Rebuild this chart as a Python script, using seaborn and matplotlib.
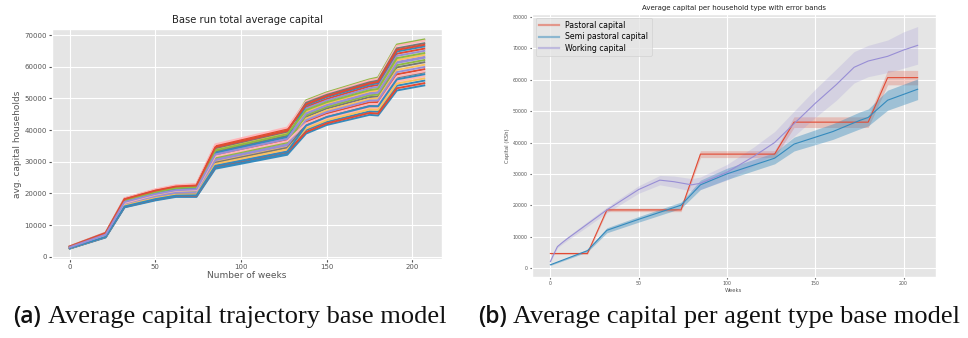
import matplotlib
matplotlib.use("Agg")
import matplotlib.pyplot as plt
from matplotlib.lines import Line2D
import numpy as np
import pandas as pd
import seaborn as sns

# ---------------------------------------------------------------------------
# Panel (a): average household capital for every simulation run of the base model
# ---------------------------------------------------------------------------
run_weeks = [0, 21, 32, 50, 62, 74, 85, 127, 138, 150, 175, 180, 191, 207]

run_01 = [3000, 7000, 17200, 19700, 20900, 21200, 32000, 36900, 42600, 45200, 48700, 48800, 57600, 59200]
run_02 = [2600, 6100, 15600, 17800, 18900, 18900, 27800, 32200, 38900, 41600, 44800, 44600, 52500, 54100]
run_03 = [2900, 6700, 16800, 19200, 20400, 20500, 30900, 35600, 45400, 48000, 51700, 52000, 61500, 63100]
run_04 = [3100, 7200, 17600, 20300, 21500, 21800, 33200, 38200, 44200, 46800, 50400, 50600, 59800, 61400]
run_05 = [2800, 6600, 16500, 18900, 20000, 20100, 30100, 34800, 43600, 46200, 49800, 50000, 59000, 60600]
run_06 = [3200, 7500, 18200, 21000, 22200, 22600, 34700, 39900, 49400, 51900, 56000, 56600, 67000, 68600]
run_07 = [2700, 6300, 16000, 18300, 19500, 19500, 29000, 33500, 41000, 43700, 47000, 47000, 55400, 57000]
run_08 = [3300, 7600, 18400, 21100, 22400, 22800, 35100, 40400, 47300, 49800, 53800, 54200, 64100, 65700]
run_09 = [2600, 6200, 15700, 18000, 19100, 19100, 28200, 32600, 40000, 42600, 45900, 45800, 54000, 55600]
run_10 = [3000, 7100, 17300, 19900, 21100, 21400, 32400, 37400, 46800, 49300, 53200, 53600, 63400, 65000]
run_11 = [2800, 6500, 16300, 18700, 19800, 19900, 29700, 34400, 41800, 44500, 47900, 48000, 56600, 58200]
run_12 = [3200, 7400, 17900, 20600, 21900, 22200, 34000, 39100, 45800, 48400, 52200, 52500, 62100, 63700]
run_13 = [2900, 6800, 16900, 19400, 20600, 20700, 31300, 36100, 44700, 47300, 51000, 51200, 60500, 62100]
run_14 = [3300, 7700, 18500, 21300, 22600, 23000, 35500, 40800, 49100, 51600, 55700, 56200, 66600, 68200]
run_15 = [2700, 6300, 15900, 18200, 19300, 19300, 28600, 33100, 39400, 42100, 45400, 45200, 53200, 54800]
run_16 = [3100, 7100, 17500, 20100, 21300, 21600, 32800, 37800, 47800, 50400, 54300, 54800, 64800, 66400]
run_17 = [2800, 6700, 16600, 19000, 20200, 20300, 30500, 35200, 43100, 45700, 49300, 49400, 58300, 59900]
run_18 = [3200, 7500, 18100, 20800, 22000, 22400, 34300, 39500, 48600, 51100, 55100, 55600, 65800, 67400]
run_19 = [2700, 6400, 16200, 18500, 19600, 19700, 29300, 33900, 40500, 43100, 46500, 46400, 54700, 56300]
run_20 = [3100, 7300, 17800, 20400, 21700, 22000, 33600, 38700, 46300, 48800, 52600, 53000, 62700, 64300]
run_21 = [3000, 6900, 17000, 19600, 20800, 21000, 31700, 36500, 42100, 44700, 48200, 48200, 56900, 58500]
run_22 = [3200, 7500, 18200, 20900, 22200, 22500, 34600, 39800, 48100, 50700, 54700, 55200, 65300, 66900]
run_23 = [2700, 6300, 15900, 18200, 19300, 19400, 28700, 33200, 41400, 44100, 47500, 47500, 56000, 57600]
run_24 = [3000, 7000, 17300, 19800, 21000, 21300, 32300, 37200, 45200, 47800, 51500, 51800, 61200, 62800]

runs = [run_01, run_02, run_03, run_04, run_05, run_06, run_07, run_08,
        run_09, run_10, run_11, run_12, run_13, run_14, run_15, run_16,
        run_17, run_18, run_19, run_20, run_21, run_22, run_23, run_24]

# ---------------------------------------------------------------------------
# Panel (b): mean capital per household type with its spread over runs
# ---------------------------------------------------------------------------
pastoral_weeks = [0, 21, 32, 74, 85, 127, 138, 180, 191, 208]
pastoral_mean = [4600, 4600, 18500, 18500, 36300, 36300, 46500, 46500, 60700, 60700]
pastoral_err = [300, 300, 550, 550, 1100, 1100, 1700, 1700, 2300, 2300]

semi_weeks = [0, 21, 32, 50, 74, 85, 100, 127, 138, 160, 175, 180, 191, 208]
semi_mean = [1000, 5500, 12000, 15500, 20000, 26500, 30000, 35000, 39500, 43500, 47000, 48000, 53500, 57000]
semi_err = [200, 400, 800, 900, 1000, 1500, 1800, 1800, 2200, 2500, 2700, 2700, 3200, 3300]

working_weeks = [0, 2, 4, 7, 10, 21, 32, 50, 62, 70, 80, 85, 100, 115, 127, 138, 150, 162, 172, 180, 191, 200, 208]
working_mean = [2000, 4500, 6800, 8200, 9500, 14000, 18500, 25000, 28000, 27500, 26500, 27000, 30500, 35500,
                40000, 46000, 52500, 58500, 64000, 66000, 67500, 69500, 71000]
working_err = [300, 350, 400, 500, 600, 800, 900, 1200, 1500, 1800, 2000, 2000, 2500, 3000, 3500,
               4000, 4500, 5000, 5000, 5000, 5200, 5800, 6000]

series_labels = ["Pastoral capital", "Semi pastoral capital", "Working capital"]

# ---------------------------------------------------------------------------
plt.style.use("ggplot")
cycle = ["#E24A33", "#348ABD", "#988ED5", "#777777", "#FBC15E", "#8EBA42", "#FFB5B8"]

fig = plt.figure(figsize=(9.68, 3.38), dpi=100)

# ---- panel (a)
ax1 = fig.add_axes([52 / 968, (338 - 259) / 338, 390 / 968, 230 / 338])
run_names = [f"run {i + 1}" for i in range(len(runs))]
df_runs = pd.DataFrame({
    "week": np.tile(run_weeks, len(runs)),
    "capital": np.concatenate(runs),
    "run": np.repeat(run_names, len(run_weeks)),
})
palette = [cycle[i % len(cycle)] for i in range(len(runs))]
sns.lineplot(data=df_runs, x="week", y="capital", hue="run", hue_order=run_names,
             palette=palette, estimator=None, legend=False, linewidth=1.4, ax=ax1)
ax1.set_xlim(-10.35, 217.35)
ax1.set_ylim(-700, 71900)
ax1.set_xticks([0, 50, 100, 150, 200])
ax1.set_yticks(range(0, 70001, 10000))
ax1.set_title("Base run total average capital", fontsize=7.2, color="#222222", pad=4)
ax1.set_xlabel("Number of weeks", fontsize=6.5, labelpad=1)
ax1.set_ylabel("avg. capital households", fontsize=6.5, labelpad=2)
ax1.tick_params(labelsize=5, length=2, pad=1.5)

# ---- panel (b)
ax2 = fig.add_axes([532 / 968, 61 / 338, 404 / 968, 263 / 338])
groups = [
    (pastoral_weeks, pastoral_mean, pastoral_err, cycle[0], 0.25),
    (semi_weeks, semi_mean, semi_err, cycle[1], 0.4),
    (working_weeks, working_mean, working_err, cycle[2], 0.22),
]
handles = []
for (wk, mean, err, col, band_alpha), lab in zip(groups, series_labels):
    wk = np.asarray(wk)
    mean = np.asarray(mean)
    err = np.asarray(err)
    ax2.fill_between(wk, mean - err, mean + err, color=col, alpha=band_alpha, linewidth=0)
    sns.lineplot(x=wk, y=mean, color=col, linewidth=0.8, ax=ax2)
    handles.append(Line2D([], [], color=col, linewidth=1.6, alpha=0.5, label=lab))

ax2.set_xlim(-10.4, 218.4)
ax2.set_ylim(-2900, 81000)
ax2.set_xticks([0, 50, 100, 150, 200])
ax2.set_yticks(range(0, 80001, 10000))
ax2.set_title("Average capital per household type with error bands", fontsize=5.0,
              color="#222222", pad=3)
ax2.set_xlabel("Weeks", fontsize=3.8, labelpad=1)
ax2.set_ylabel("Capital (KSh)", fontsize=3.8, labelpad=2)
ax2.tick_params(labelsize=3.4, length=1.5, pad=1.5)
ax2.legend(handles=handles, loc="upper left", fontsize=5.6, handlelength=2.6,
           borderaxespad=0.5, labelspacing=0.3, frameon=True)

# ---- sub-figure captions
cap_y = 1 - 323 / 338
fig.text(13 / 968, cap_y, "(a)", fontfamily="Open Sans", fontweight="semibold",
         fontsize=16.5, va="baseline", color="#111111")
fig.text(48 / 968, cap_y, "Average capital trajectory base model",
         fontfamily="Liberation Serif", fontsize=19, va="baseline", color="#111111")
fig.text(478 / 968, cap_y, "(b)", fontfamily="Open Sans", fontweight="semibold",
         fontsize=16.5, va="baseline", color="#111111")
fig.text(513 / 968, cap_y, "Average capital per agent type base model",
         fontfamily="Liberation Serif", fontsize=19, va="baseline", color="#111111")

fig.savefig("out.png", dpi=100, facecolor="white")
